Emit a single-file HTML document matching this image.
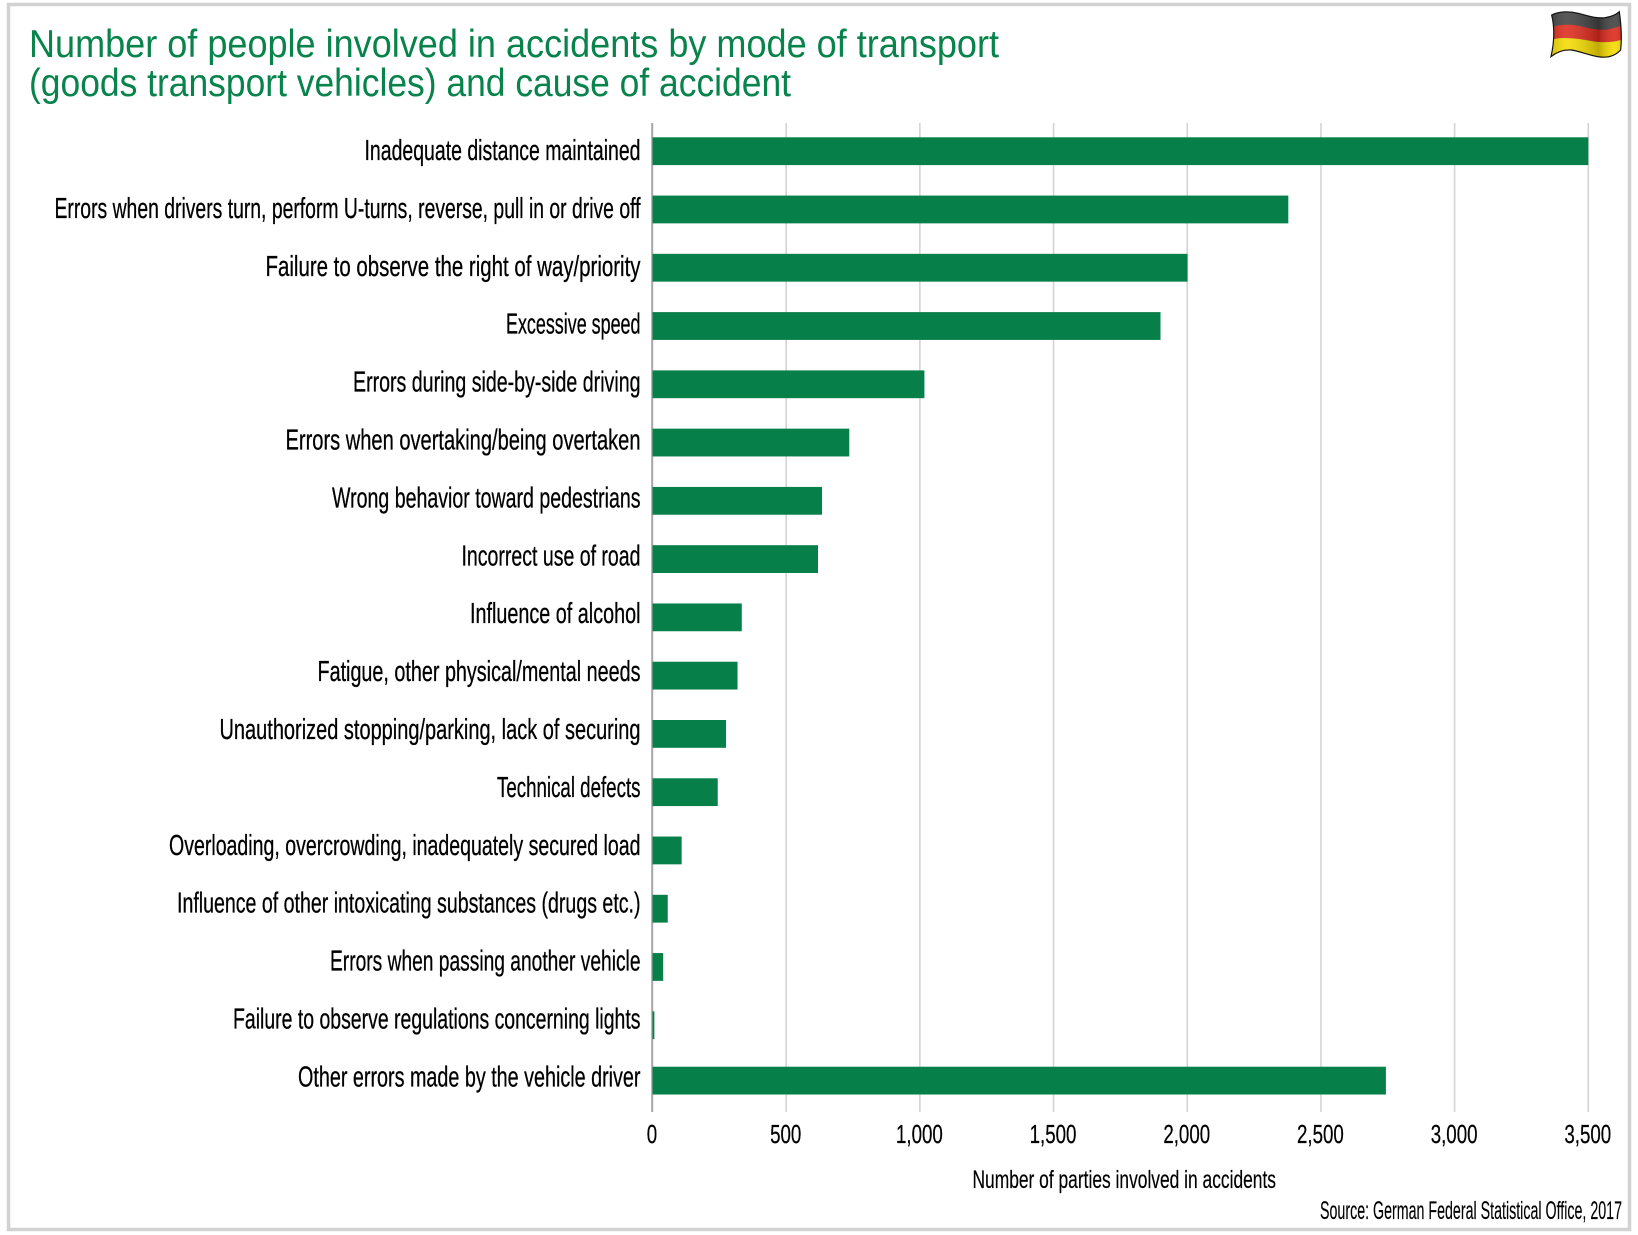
<!DOCTYPE html>
<html lang="en">
<head>
<meta charset="utf-8">
<title>Number of people involved in accidents</title>
<style>
html,body{margin:0;padding:0;background:#fff;width:1638px;height:1235px;overflow:hidden}
svg{display:block}
text{font-family:"Liberation Sans",Arial,sans-serif}
</style>
</head>
<body>
<svg id="chart" xmlns="http://www.w3.org/2000/svg" width="1638" height="1235" viewBox="0 0 1638 1235">
  <rect x="8.5" y="4.5" width="1621" height="1225" fill="#fff" stroke="#d2d2d2" stroke-width="3.5"/>
  <g fill="#07834b" font-size="39">
    <text x="29" y="57" textLength="970" lengthAdjust="spacingAndGlyphs">Number of people involved in accidents by mode of transport</text>
    <text x="29" y="96" textLength="762" lengthAdjust="spacingAndGlyphs">(goods transport vehicles) and cause of accident</text>
  </g>
  <g transform="translate(1400,0) scale(0.3333)">
    <defs>
      <clipPath id="flagClip"><path d="M455 45C475 34 505 33 535 40C565 48 590 56 615 53C635 50 648 44 658 35C663 70 666 115 662 150C645 168 625 174 600 171C570 167 545 155 515 150C490 148 470 156 453 170C462 130 466 90 455 45Z"/></clipPath>
      <linearGradient id="flagShade" x1="0" x2="1" y1="0" y2="0">
        <stop offset="0" stop-color="#000" stop-opacity=".22"/>
        <stop offset=".25" stop-color="#fff" stop-opacity=".12"/>
        <stop offset=".65" stop-color="#000" stop-opacity=".22"/>
        <stop offset=".85" stop-color="#fff" stop-opacity=".1"/>
        <stop offset="1" stop-color="#000" stop-opacity=".2"/>
      </linearGradient>
    </defs>
    <g clip-path="url(#flagClip)">
      <rect x="440" y="20" width="240" height="170" fill="#424242"/>
      <path d="M440 85C480 72 510 72 540 78C570 86 600 92 625 88C640 85 655 80 670 74V124C640 128 610 128 580 124C550 118 520 114 490 114C470 114 455 118 440 124Z" fill="#dd2a1c"/>
      <path d="M440 124C455 118 470 114 490 114C520 114 550 118 580 124C610 128 640 128 670 118V190H440Z" fill="#f5dc00"/>
      <rect x="440" y="20" width="240" height="170" fill="url(#flagShade)"/>
    </g>
    <path d="M455 45C475 34 505 33 535 40C565 48 590 56 615 53C635 50 648 44 658 35C663 70 666 115 662 150C645 168 625 174 600 171C570 167 545 155 515 150C490 148 470 156 453 170C462 130 466 90 455 45Z" fill="none" stroke="#111" stroke-width="3.5"/>
  </g>
  <g id="grid"></g>
  <g id="bars"></g>
  <g id="catLabels" fill="#000" stroke="#000" stroke-width=".3" font-size="29" text-anchor="end">
    <text class="cat" x="640.5" textLength="276" lengthAdjust="spacingAndGlyphs"></text>
    <text class="cat" x="640.5" textLength="586" lengthAdjust="spacingAndGlyphs"></text>
    <text class="cat" x="640.5" textLength="375" lengthAdjust="spacingAndGlyphs"></text>
    <text class="cat" x="640.5" textLength="134.5" lengthAdjust="spacingAndGlyphs"></text>
    <text class="cat" x="640.5" textLength="287.5" lengthAdjust="spacingAndGlyphs"></text>
    <text class="cat" x="640.5" textLength="355" lengthAdjust="spacingAndGlyphs"></text>
    <text class="cat" x="640.5" textLength="308.5" lengthAdjust="spacingAndGlyphs"></text>
    <text class="cat" x="640.5" textLength="179" lengthAdjust="spacingAndGlyphs"></text>
    <text class="cat" x="640.5" textLength="170.5" lengthAdjust="spacingAndGlyphs"></text>
    <text class="cat" x="640.5" textLength="323" lengthAdjust="spacingAndGlyphs"></text>
    <text class="cat" x="640.5" textLength="421" lengthAdjust="spacingAndGlyphs"></text>
    <text class="cat" x="640.5" textLength="143.5" lengthAdjust="spacingAndGlyphs"></text>
    <text class="cat" x="640.5" textLength="471.5" lengthAdjust="spacingAndGlyphs"></text>
    <text class="cat" x="640.5" textLength="463.5" lengthAdjust="spacingAndGlyphs"></text>
    <text class="cat" x="640.5" textLength="310.5" lengthAdjust="spacingAndGlyphs"></text>
    <text class="cat" x="640.5" textLength="407.5" lengthAdjust="spacingAndGlyphs"></text>
    <text class="cat" x="640.5" textLength="342.5" lengthAdjust="spacingAndGlyphs"></text>
  </g>
  <g id="xTicks" fill="#000" stroke="#000" stroke-width=".25"></g>
  <text x="972.5" y="1188" font-size="25" fill="#000" stroke="#000" stroke-width=".2" textLength="303.5" lengthAdjust="spacingAndGlyphs">Number of parties involved in accidents</text>
  <text x="1320" y="1219" font-size="25" fill="#000" stroke="#000" stroke-width=".15" textLength="302" lengthAdjust="spacingAndGlyphs">Source: German Federal Statistical Office, 2017</text>
</svg>
<script>
const categories = [
  "Inadequate distance maintained",
  "Errors when drivers turn, perform U-turns, reverse, pull in or drive off",
  "Failure to observe the right of way/priority",
  "Excessive speed",
  "Errors during side-by-side driving",
  "Errors when overtaking/being overtaken",
  "Wrong behavior toward pedestrians",
  "Incorrect use of road",
  "Influence of alcohol",
  "Fatigue, other physical/mental needs",
  "Unauthorized stopping/parking, lack of securing",
  "Technical defects",
  "Overloading, overcrowding, inadequately secured load",
  "Influence of other intoxicating substances (drugs etc.)",
  "Errors when passing another vehicle",
  "Failure to observe regulations concerning lights",
  "Other errors made by the vehicle driver"
];
const parties = [3500, 2378, 2001, 1900, 1017, 736, 634, 619, 334, 318, 275, 244, 109, 57, 40, 7, 2743];
const tickValues = [0, 500, 1000, 1500, 2000, 2500, 3000, 3500];
const tickLabels = ["0", "500", "1,000", "1,500", "2,000", "2,500", "3,000", "3,500"];

const NS = "http://www.w3.org/2000/svg";
const X0 = 652.5, PX_PER_UNIT = 0.26737;
const BAR_TOP0 = 137.3, BAR_STEP = 58.27, BAR_H = 27.8, LAST_BAND_SHIFT = -2.9;
const LABEL_BASE0 = 160, LABEL_STEP = 57.9;
const AXIS_TOP = 123, AXIS_BOTTOM = 1112;

function xAxis(v) { return X0 + v * PX_PER_UNIT; }
function barTop(i) {
  return BAR_TOP0 + i * BAR_STEP + (i === categories.length - 1 ? LAST_BAND_SHIFT : 0);
}
function labelBase(i) { return LABEL_BASE0 + i * LABEL_STEP; }
function make(tag, attrs, parent) {
  const el = document.createElementNS(NS, tag);
  for (const k in attrs) el.setAttribute(k, attrs[k]);
  parent.appendChild(el);
  return el;
}

const grid = document.getElementById("grid");
const bars = document.getElementById("bars");
const xTicks = document.getElementById("xTicks");
const catNodes = document.querySelectorAll("#catLabels .cat");

tickValues.forEach(function (v) {
  if (v === 0) return;
  const line = make("line", { x1: xAxis(v), x2: xAxis(v), y1: AXIS_TOP, y2: AXIS_BOTTOM, stroke: "#d4d4d4", "stroke-width": 1.6 }, grid);
  
  
});

const axisLine = make("line", { x1: X0 - 0.3, x2: X0 - 0.3, y1: AXIS_TOP, y2: AXIS_BOTTOM, stroke: "#a6a6a6", "stroke-width": 2 }, grid);



categories.forEach(function (name, i) {
  const bar = make("rect", { x: X0, y: barTop(i), width: xAxis(parties[i]) - X0, height: BAR_H, fill: "#077f49" }, bars);
  
  

  catNodes[i].textContent = name;
  catNodes[i].setAttribute("y", labelBase(i));
});

tickLabels.forEach(function (t, i) {
  const tick = make("text", { transform: "translate(" + (xAxis(tickValues[i]) - 0.5) + ",1143) scale(0.72,1)", "text-anchor": "middle", "font-size": 26 }, xTicks);
  tick.textContent = t;
  
  
});
</script>
</body>
</html>
